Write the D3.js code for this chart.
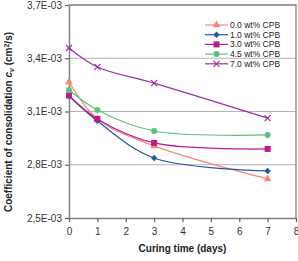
<!DOCTYPE html>
<html><head><meta charset="utf-8">
<script src="https://cdn.jsdelivr.net/npm/d3@7"></script>
<style>body{margin:0;background:#fff}svg{display:block}</style>
</head><body><svg id="c" width="298" height="261"></svg>
<script>
const days = [0, 1, 3, 7];
const seriesNames = ["0.0 wt% CPB", "1.0 wt% CPB", "3.0 wt% CPB", "4.5 wt% CPB", "7.0 wt% CPB"];
const cpb00 = [3.266e-3, 3.058e-3, 2.906e-3, 2.72e-3];
const cpb10 = [3.187e-3, 3.047e-3, 2.838e-3, 2.765e-3];
const cpb30 = [3.19e-3, 3.058e-3, 2.923e-3, 2.889e-3];
const cpb45 = [3.221e-3, 3.108e-3, 2.99e-3, 2.968e-3];
const cpb70 = [3.458e-3, 3.351e-3, 3.26e-3, 3.063e-3];
const xTicks = [0, 1, 2, 3, 4, 5, 6, 7, 8];
const yTicks = [2.5e-3, 2.8e-3, 3.1e-3, 3.4e-3, 3.7e-3];
const yTickLabels = ["2,5E-03", "2,8E-03", "3,1E-03", "3,4E-03", "3,7E-03"];

const colors = ["#f4877a", "#1f5aa6", "#c0188c", "#5fbf7f", "#9b2fa6"];
const markers = ["triangle", "diamond", "square", "circle", "x"];
const data = [cpb00, cpb10, cpb30, cpb45, cpb70];

const svg = d3.select("#c");
const L = 69, R = 296, T = 5, B = 218;
const x = d3.scaleLinear().domain([0, 8]).range([L, R]);
const y = d3.scaleLinear().domain([2.5e-3, 3.7e-3]).range([B, T]);

svg.append("g").selectAll("line").data(yTicks.slice(1, 4)).join("line")
  .attr("x1", L).attr("x2", R).attr("y1", d => y(d)).attr("y2", d => y(d))
  .attr("stroke", "#b4b4b4").attr("stroke-width", 1);
svg.append("path").attr("d", `M${L},${T}H${R}V${B}`).attr("fill", "none")
  .attr("stroke", "#808080").attr("stroke-width", 1.3);

const fontF = "'Liberation Sans', Arial, sans-serif";
const xAxis = svg.append("g").attr("transform", `translate(0,${B})`)
  .call(d3.axisBottom(x).tickValues(xTicks).tickSize(4).tickSizeOuter(0).tickPadding(6));
const yAxis = svg.append("g").attr("transform", `translate(${L},0)`)
  .call(d3.axisLeft(y).tickValues(yTicks).tickFormat((d, i) => yTickLabels[i]).tickSize(4).tickSizeOuter(0).tickPadding(3));
[xAxis, yAxis].forEach(a => {
  a.select(".domain").attr("stroke", "#808080").attr("stroke-width", 1.5);
  a.selectAll(".tick line").attr("stroke", "#606060").attr("stroke-width", 1.2);
  a.selectAll("text").attr("font-family", fontF).attr("font-size", 10).attr("fill", "#333");
});

const line = d3.line().x((d, i) => x(days[i])).y(d => y(d)).curve(d3.curveCatmullRom.alpha(0.5));

function drawMarker(g, type, cx, cy, col) {
  if (type === "triangle") {
    g.append("path").attr("d", d3.symbol(d3.symbolTriangle, 26)()).attr("transform", `translate(${cx},${cy})`).attr("fill", col);
  } else if (type === "diamond") {
    g.append("path").attr("d", "M0,-3.2L3.2,0L0,3.2L-3.2,0Z").attr("transform", `translate(${cx},${cy})`).attr("fill", col);
  } else if (type === "square") {
    g.append("rect").attr("x", cx - 3).attr("y", cy - 3).attr("width", 6).attr("height", 6).attr("fill", col);
  } else if (type === "circle") {
    g.append("circle").attr("cx", cx).attr("cy", cy).attr("r", 3).attr("fill", col);
  } else {
    g.append("path").attr("d", "M-3,-3L3,3M-3,3L3,-3").attr("transform", `translate(${cx},${cy})`).attr("stroke", col).attr("stroke-width", 1.2).attr("fill", "none");
  }
}

data.forEach((s, k) => {
  const g = svg.append("g");
  g.append("path").datum(s).attr("d", line).attr("fill", "none").attr("stroke", colors[k]).attr("stroke-width", 1.2);
  s.forEach((v, i) => drawMarker(g, markers[k], x(days[i]), y(v), colors[k]));
});

const lg = svg.append("g");
seriesNames.forEach((n, k) => {
  const ly = 25 + k * 9.7;
  lg.append("line").attr("x1", 205).attr("x2", 228).attr("y1", ly).attr("y2", ly).attr("stroke", colors[k]).attr("stroke-width", 1.2);
  drawMarker(lg, markers[k], 216.5, ly, colors[k]);
  lg.append("text").attr("x", 230).attr("y", ly + 3).text(n)
    .attr("font-family", fontF).attr("font-size", 8.5).attr("fill", "#222");
});

svg.append("text").attr("x", (L + R) / 2).attr("y", 252).attr("text-anchor", "middle")
  .attr("font-family", fontF).attr("font-size", 10).attr("font-weight", "bold").attr("fill", "#222")
  .text("Curing time (days)");
const yt = svg.append("text").attr("transform", "translate(12,122) rotate(-90)").attr("text-anchor", "middle")
  .attr("font-family", fontF).attr("font-size", 10).attr("font-weight", "bold").attr("fill", "#222");
yt.append("tspan").text("Coefficient of consolidation   ");
yt.append("tspan").attr("font-style", "italic").text("c");
yt.append("tspan").attr("font-style", "italic").attr("font-size", 7).attr("dy", 2).text("v");
yt.append("tspan").attr("dy", -2).text(" (cm");
yt.append("tspan").attr("font-size", 7).attr("dy", -3).text("2");
yt.append("tspan").attr("dy", 3).text("/s)");
</script></body></html>
